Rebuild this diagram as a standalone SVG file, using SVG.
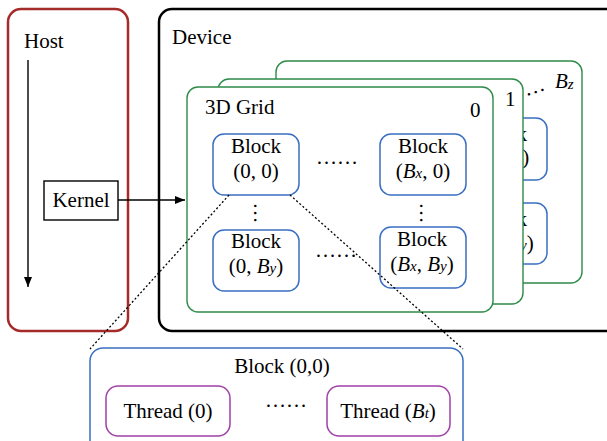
<svg xmlns="http://www.w3.org/2000/svg" width="607" height="441" viewBox="0 0 607 441">
<style>
text{font-family:'Liberation Serif','DejaVu Serif',serif;font-size:21px;fill:#000}
.c{text-anchor:middle}
.host{fill:#fff;stroke:#a52a2a;stroke-width:2.5}
.dev{fill:#fff;stroke:#000;stroke-width:2.5}
.grid{fill:#fff;stroke:#2e8b4a;stroke-width:1.4}
.blk{fill:#fff;stroke:#3a6fc2;stroke-width:1.5}
.thr{fill:#fff;stroke:#a040a8;stroke-width:1.5}
.ln{fill:none;stroke:#000;stroke-width:1.4}
.dot{fill:none;stroke:#000;stroke-width:1.3;stroke-dasharray:2 2.2}
.sub{font-size:15px;font-style:italic}
.it{font-style:italic}
</style>
<defs>
<marker id="ah" viewBox="0 0 10 10" refX="10" refY="5" markerWidth="10" markerHeight="10" markerUnits="userSpaceOnUse" orient="auto">
<path d="M0,1 L10,5 L0,9 Z" fill="#000"/>
</marker>
</defs>

<g id="host">
<rect class="host" x="8" y="9" width="120" height="322" rx="13"/>
<text x="24" y="48">Host</text>
</g>

<g id="device">
<rect class="dev" x="159" y="9" width="470" height="322" rx="13"/>
<text x="172" y="44">Device</text>
</g>

<g id="grid-bz">
<rect class="grid" x="276" y="61" width="306" height="222" rx="11"/>
<text x="536" y="93" transform="rotate(-18 536 93)" class="c">…</text>
<text x="555" y="88" class="it">B<tspan class="sub" dy="1">z</tspan></text>
<g id="bz-block-top">
<rect class="blk" x="461" y="118" width="86" height="62" rx="11"/>
<text x="502" y="141" class="c">Block</text>
<text x="502" y="164" class="c">(<tspan class="it">B</tspan><tspan class="sub">x</tspan>, 0)</text>
</g>
<g id="bz-block-bottom">
<rect class="blk" x="461" y="203" width="86" height="61" rx="11"/>
<text x="502" y="226" class="c">Block</text>
<text x="502" y="250" class="c">(<tspan class="it">B</tspan><tspan class="sub">x</tspan>, <tspan class="it">B</tspan><tspan class="sub">y</tspan>)</text>
</g>
</g>

<g id="grid-1">
<rect class="grid" x="218" y="79" width="305" height="225" rx="11"/>
<text x="505" y="106">1</text>
</g>

<g id="grid-0">
<rect class="grid" x="187" y="87" width="306" height="225" rx="11"/>
<text x="205" y="114">3D Grid</text>
<text x="470" y="117">0</text>
<text x="337" y="164" class="c">……</text>
<text x="336" y="257" class="c">……</text>
<text x="253.5" y="213" class="c" transform="rotate(90 253.5 213)">…</text>
<text x="420" y="213" class="c" transform="rotate(90 420 213)">…</text>
</g>

<g id="block-0-0">
<rect class="blk" x="213" y="134" width="86" height="61" rx="11"/>
<text x="256" y="153" class="c">Block</text>
<text x="256" y="178" class="c">(0, 0)</text>
</g>
<g id="block-bx-0">
<rect class="blk" x="380" y="134" width="86" height="61" rx="11"/>
<text x="423" y="153" class="c">Block</text>
<text x="423" y="178" class="c">(<tspan class="it">B</tspan><tspan class="sub">x</tspan>, 0)</text>
</g>
<g id="block-0-by">
<rect class="blk" x="213" y="230" width="86" height="61" rx="11"/>
<text x="256" y="248" class="c">Block</text>
<text x="256" y="273" class="c">(0, <tspan class="it">B</tspan><tspan class="sub">y</tspan>)</text>
</g>
<g id="block-bx-by">
<rect class="blk" x="380" y="227" width="86" height="61" rx="11"/>
<text x="422" y="246" class="c">Block</text>
<text x="422" y="271" class="c">(<tspan class="it">B</tspan><tspan class="sub">x</tspan>, <tspan class="it">B</tspan><tspan class="sub">y</tspan>)</text>
</g>

<g id="kernel">
<rect x="44" y="181" width="74" height="39" fill="#fff" stroke="#000" stroke-width="1.4"/>
<text x="81" y="207" class="c">Kernel</text>
</g>

<g id="block-detail">
<rect class="blk" x="90" y="348" width="373" height="120" rx="13"/>
<text x="282" y="373" class="c">Block (0,0)</text>
<text x="286" y="407" class="c">……</text>
</g>
<g id="thread-0">
<rect class="thr" x="106" y="386" width="124" height="50" rx="12"/>
<text x="168" y="418" class="c">Thread (0)</text>
</g>
<g id="thread-bt">
<rect class="thr" x="327" y="386" width="123" height="50" rx="12"/>
<text x="388" y="418" class="c">Thread (<tspan class="it">B</tspan><tspan class="sub">t</tspan>)</text>
</g>

<g id="connectors">
<line class="ln" x1="28" y1="60" x2="28" y2="287" marker-end="url(#ah)"/>
<line class="ln" x1="118" y1="200" x2="185" y2="200" marker-end="url(#ah)"/>
<line class="dot" x1="229" y1="195" x2="90" y2="349"/>
<line class="dot" x1="290" y1="195" x2="463" y2="349"/>
</g>
</svg>
